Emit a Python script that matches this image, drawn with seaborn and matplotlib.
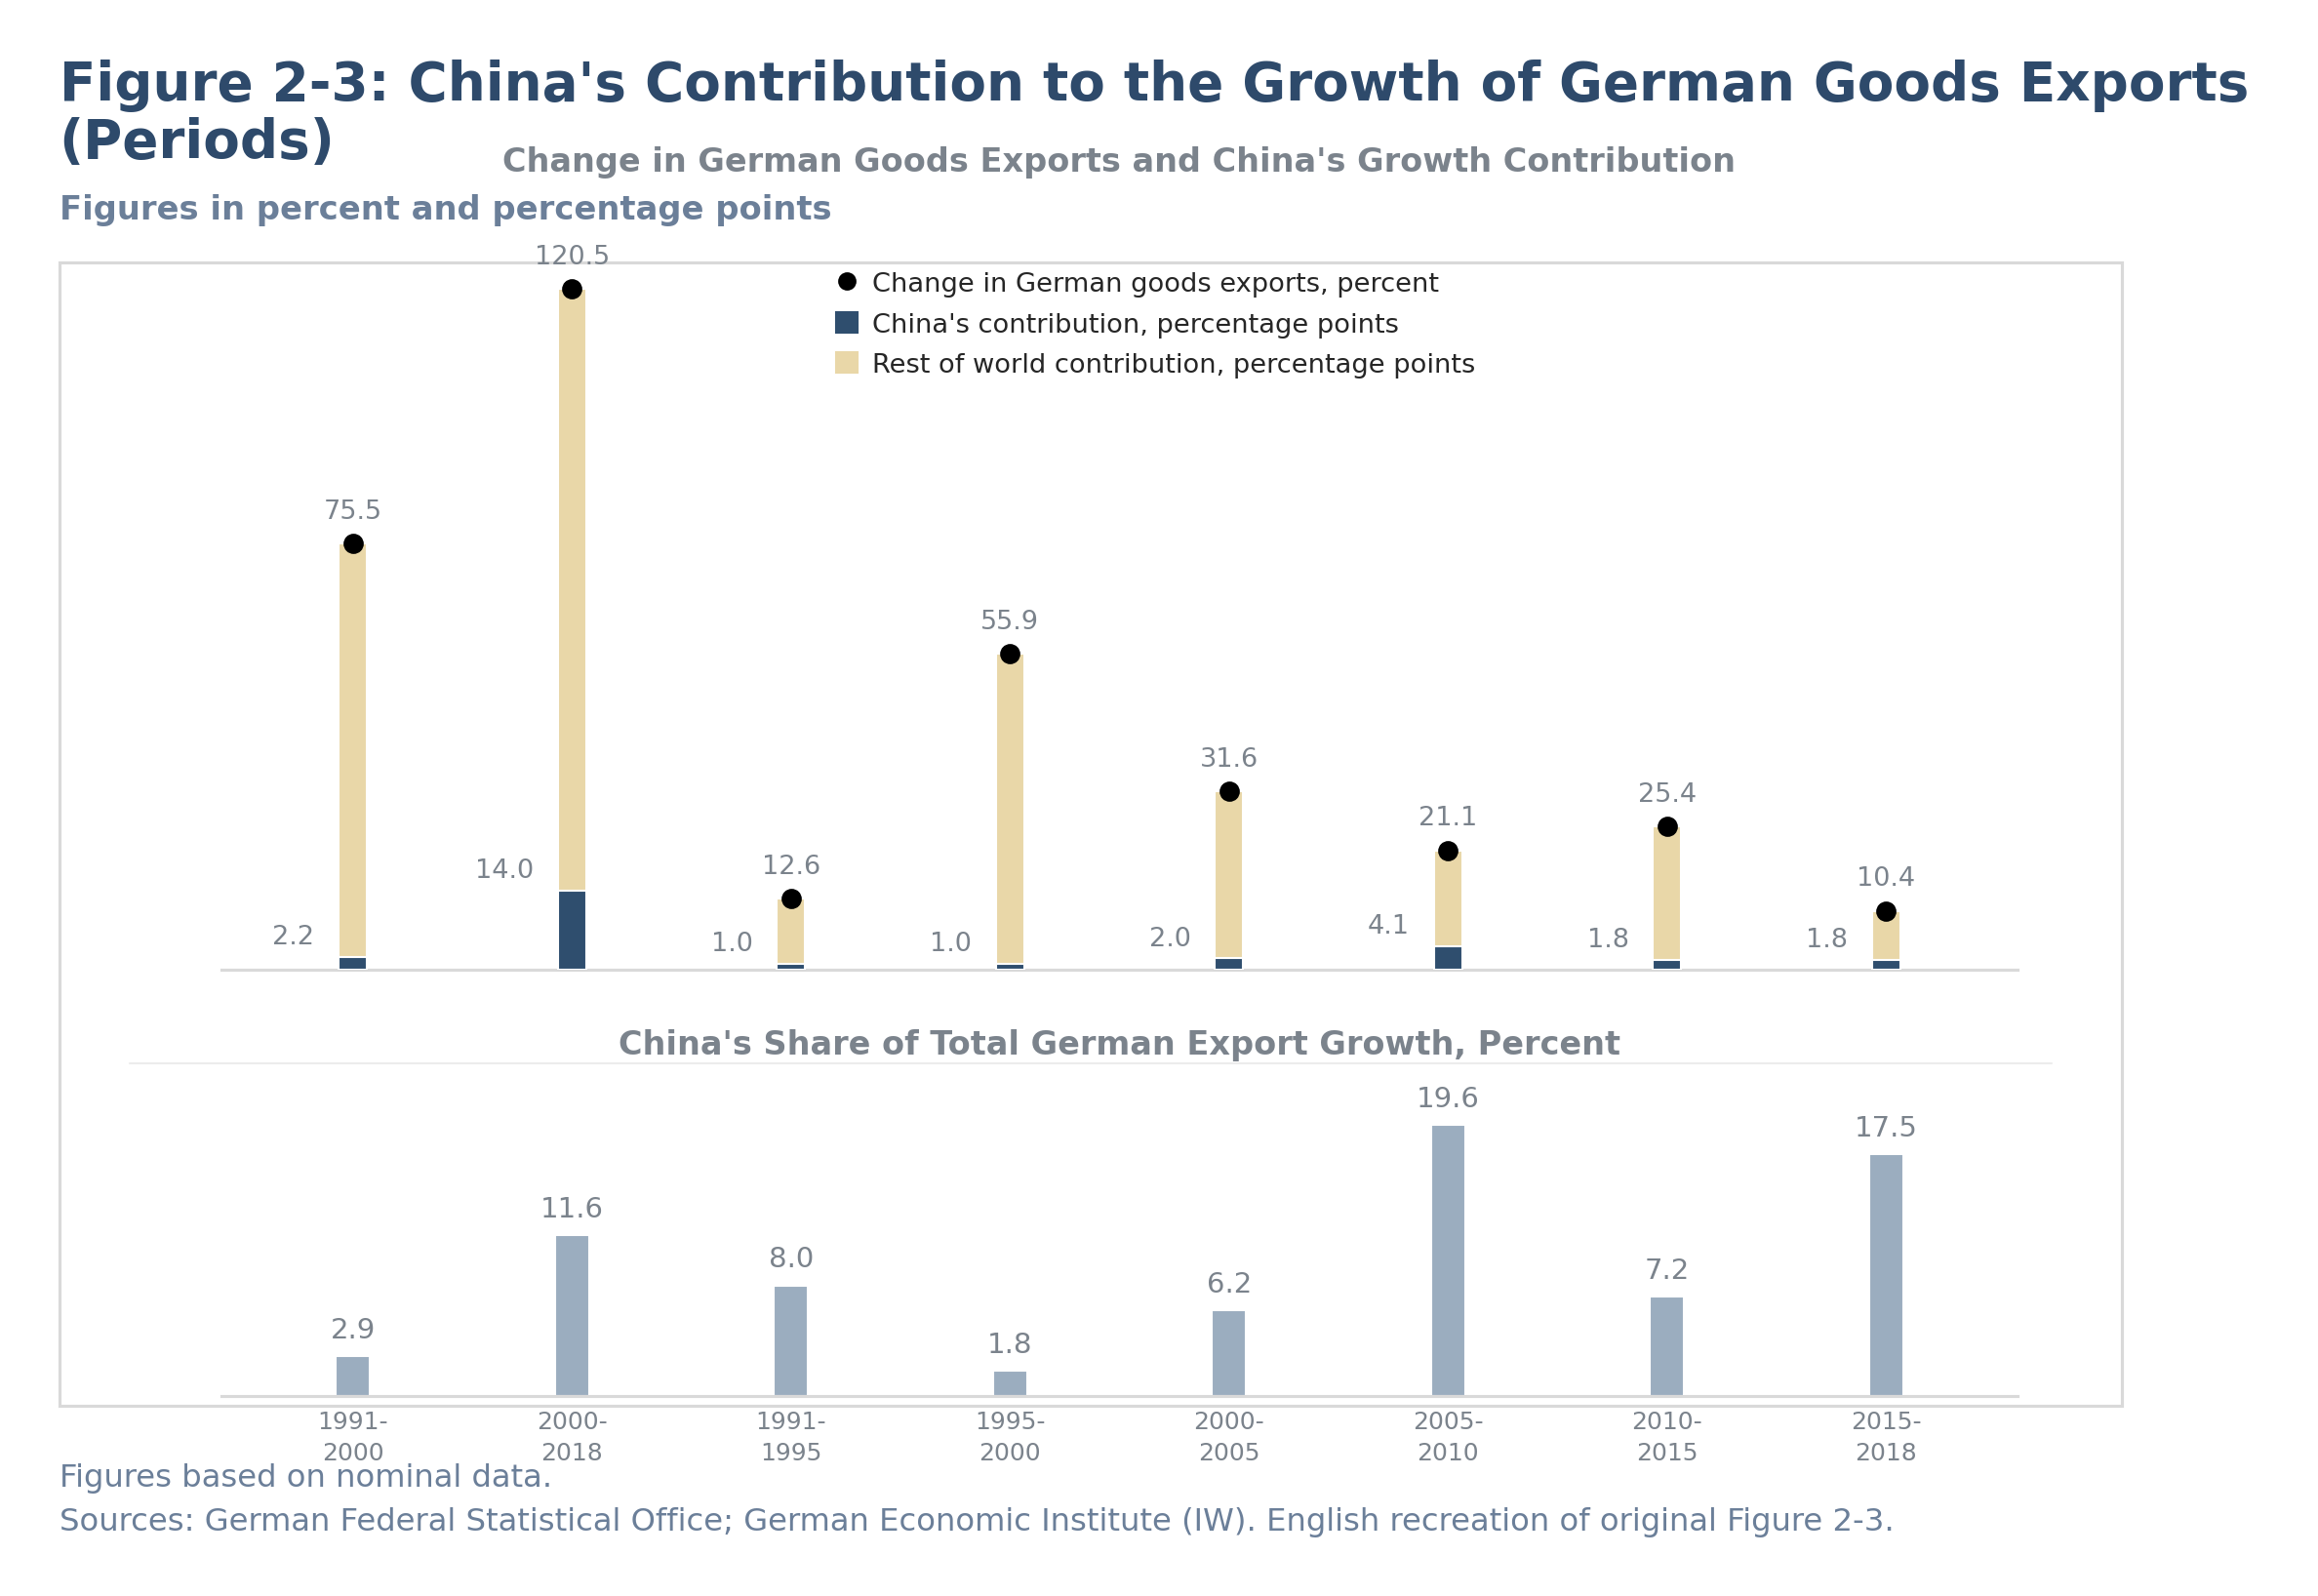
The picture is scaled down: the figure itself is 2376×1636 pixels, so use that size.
import numpy as np
import seaborn as sns
import matplotlib.pyplot as plt
from matplotlib.patches import Rectangle, Patch
from matplotlib.lines import Line2D

# ----------------------------
# data
# ----------------------------
periods = ["1991-\n2000", "2000-\n2018", "1991-\n1995", "1995-\n2000",
           "2000-\n2005", "2005-\n2010", "2010-\n2015", "2015-\n2018"]
total_change = [75.5, 120.5, 12.6, 55.9, 31.6, 21.1, 25.4, 10.4]
china_contrib = [2.2, 14.0, 1.0, 1.0, 2.0, 4.1, 1.8, 1.8]
china_share = [2.9, 11.6, 8.0, 1.8, 6.2, 19.6, 7.2, 17.5]

navy = "#2f4e6e"
beige = "#e9d7a8"
steel = "#9badbf"
grey_txt = "#7b838c"
title_col = "#2e4a6b"
sub_col = "#6b7f99"
line_col = "#d9d9d9"

sns.set_style("white")
plt.rcParams['font.family'] = ['DejaVu Sans']

fig = plt.figure(figsize=(15.84, 10.913), dpi=150)
ax1 = fig.add_axes([0.0955, 0.3922, 0.7749, 0.488])
ax2 = fig.add_axes([0.0955, 0.1253, 0.7749, 0.2078])

# ----------------------------
# top chart: stacked bars + dots
# ----------------------------
x = np.arange(len(periods))
sns.barplot(x=periods, y=total_change, color=beige, width=0.13,
            saturation=1, errorbar=None, ax=ax1, zorder=2)
sns.barplot(x=periods, y=china_contrib, color=navy, width=0.13,
            saturation=1, errorbar=None, ax=ax1, zorder=3)
ax1.scatter(x, total_change, s=80, color="black", zorder=4)

for i, (t, c) in enumerate(zip(total_change, china_contrib)):
    ax1.annotate(f"{t:.1f}", (i, t), xytext=(0, 16), textcoords="offset points",
                 ha="center", va="center", fontsize=13, color=grey_txt)
    ax1.annotate(f"{c:.1f}", (i - 0.175, c), xytext=(0, 10), textcoords="offset points",
                 ha="right", va="center", fontsize=13, color=grey_txt)

ax1.set_xlim(-0.6, 7.6)
ax1.set_ylim(0, 138)
ax1.set_yticks([])
ax1.set_xticks(x)
ax1.set_xticklabels([])
ax1.tick_params(axis="x", length=0)
ax1.set_title("Change in German Goods Exports and China's Growth Contribution",
              fontsize=16.1, fontweight="bold", color=grey_txt, pad=9.5)

handles = [
    Line2D([], [], marker="o", linestyle="none", color="black", markersize=8),
    Patch(color=navy),
    Patch(color=beige),
]
labels = ["Change in German goods exports, percent",
          "China's contribution, percentage points",
          "Rest of world contribution, percentage points"]
ax1.legend(handles, labels, loc="upper left", bbox_to_anchor=(0.356, 0.836),
           bbox_transform=fig.transFigure, frameon=False, fontsize=13.1,
           handlelength=0.8, handleheight=0.8, handletextpad=0.55,
           borderaxespad=0, labelspacing=0.56)

# ----------------------------
# bottom chart: China's share
# ----------------------------
sns.barplot(x=periods, y=china_share, color=steel, width=0.155,
            saturation=1, errorbar=None, ax=ax2, zorder=2)
for i, v in enumerate(china_share):
    ax2.annotate(f"{v:.1f}", (i, v), xytext=(0, 13), textcoords="offset points",
                 ha="center", va="center", fontsize=14, color=grey_txt)

ax2.set_xlim(-0.6, 7.6)
ax2.set_ylim(0, 24)
ax2.set_yticks([])
ax2.set_xticks(x)
ax2.set_xticklabels(periods, fontsize=12, color=grey_txt, linespacing=1.4)
ax2.tick_params(axis="x", length=0, pad=7)
ax2.set_title("China's Share of Total German Export Growth, Percent",
              fontsize=16.1, fontweight="bold", color=grey_txt, pad=5)

for ax in (ax1, ax2):
    ax.set_facecolor("none")
    for s in ("top", "left", "right"):
        ax.spines[s].set_visible(False)
    ax.spines["bottom"].set_color(line_col)
    ax.spines["bottom"].set_linewidth(1.5)
    ax.set_xlabel("")
    ax.set_ylabel("")

# ----------------------------
# frame, separator, titles, notes
# ----------------------------
fig.add_artist(Rectangle((0.0255, 0.1194), 0.8897, 0.7156, transform=fig.transFigure,
                         fill=False, edgecolor=line_col, linewidth=1.5, zorder=0))
fig.add_artist(Line2D([0.056, 0.885], [0.3335, 0.3335], transform=fig.transFigure,
                      color="#ececec", linewidth=1))

fig.text(0.0255, 0.963, "Figure 2-3: China's Contribution to the Growth of German Goods Exports\n(Periods)",
         fontsize=26.3, fontweight="bold", color=title_col, va="top", ha="left", linespacing=1.13)
fig.text(0.0255, 0.8685, "Figures in percent and percentage points",
         fontsize=16.2, fontweight="bold", color=sub_col, va="center", ha="left")
fig.text(0.0255, 0.074, "Figures based on nominal data.",
         fontsize=15.5, color=sub_col, va="center", ha="left")
fig.text(0.0255, 0.047, "Sources: German Federal Statistical Office; German Economic Institute (IW). "
         "English recreation of original Figure 2-3.",
         fontsize=15.5, color=sub_col, va="center", ha="left")

plt.savefig("out.png", dpi=150)
